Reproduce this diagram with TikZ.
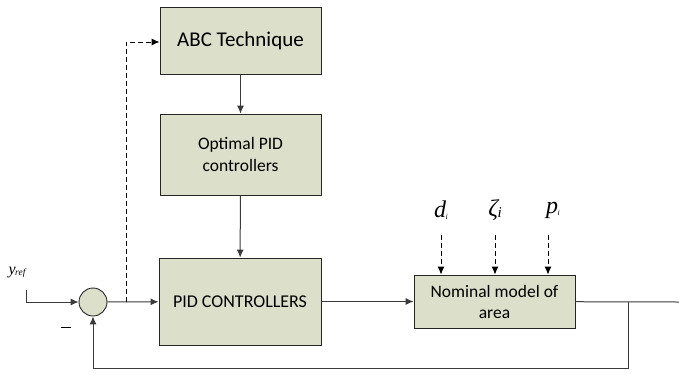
\documentclass[tikz,border=0pt]{standalone}
\usepackage{fontspec}
\setmainfont{Carlito}
\newfontfamily\serifit{Liberation Serif}[ItalicFont={Liberation Serif Italic}]
\usetikzlibrary{arrows.meta}
\definecolor{boxfill}{HTML}{DCDFC9}
\definecolor{linec}{HTML}{3A3A3A}
\begin{document}
\begin{tikzpicture}[x=1pt,y=-1pt,
  blk/.style={draw=black!85,fill=boxfill,line width=0.9pt,inner sep=0pt,align=center,font=\fontsize{14}{17}\selectfont},
  conn/.style={draw=linec,line width=1pt,-{Latex[length=8pt,width=7pt]}},
  plain/.style={draw=linec,line width=1pt},
  dconn/.style={draw=black,line width=0.9pt,dash pattern=on 5pt off 3pt,-{Latex[length=8pt,width=7pt]}},
  lbl/.style={inner sep=0pt}]
\useasboundingbox (0,0) rectangle (679,373);
\node[blk,minimum width=161pt,minimum height=67pt,font=\fontsize{21}{24}\selectfont] (abc) at (240.5,40.5) {ABC Technique};
\node[blk,minimum width=161pt,minimum height=81pt,font=\fontsize{17.5}{22}\selectfont] (opt) at (240.5,154.5) {Optimal PID\\controllers};
\node[blk,minimum width=162pt,minimum height=87pt,font=\fontsize{18}{21}\selectfont] (pid) at (240,301.5) {PID CONTROLLERS};
\node[blk,minimum width=161pt,minimum height=53pt,font=\fontsize{17.5}{21}\selectfont] (nom) at (494.5,301.5) {Nominal model of\\area};
\node[draw=black!85,fill=boxfill,line width=0.9pt,circle,minimum size=28pt,inner sep=0pt] (sum) at (93,302) {};
\node[lbl,font=\serifit\itshape\fontsize{16}{16}\selectfont] (yref) at (17,273) {y\kern-0.5pt\raisebox{-1pt}{\fontsize{9.5}{9.5}\selectfont ref}};
\coordinate (ys) at (26,290);
\coordinate (yc) at (26,302);
\node[lbl] (minus) at (66,327) {\rule{10pt}{0.8pt}};
\coordinate (tap) at (126,302);
\coordinate (tapup) at (126,42);
\coordinate (out) at (679,302);
\coordinate (br) at (628,302);
\coordinate (fb1) at (628,368.5);
\coordinate (fb2) at (93,368.5);
\node[lbl,font=\serifit\itshape\fontsize{24}{24}\selectfont] (d) at (441,210) {d\kern-0.5pt\raisebox{-2pt}{\fontsize{8}{8}\selectfont i}};
\node[lbl,font=\serifit\itshape\fontsize{24}{24}\selectfont] (z) at (495,210) {ζ\kern-0.5pt\raisebox{-1pt}{\fontsize{15}{15}\selectfont i}};
\node[lbl,font=\serifit\itshape\fontsize{24}{24}\selectfont] (p) at (553,210) {p\kern-0.5pt\raisebox{-2pt}{\fontsize{8}{8}\selectfont i}};
\coordinate (d0) at (441,235);
\coordinate (z0) at (495,235);
\coordinate (p0) at (548,235);
% connectors
\draw[conn] (abc) -- (opt);
\draw[conn] (opt) -- (pid);
\draw[conn] (ys) -- (yc) -- (sum);
\draw[conn] (sum) -- (pid);
\draw[conn] (pid) -- (nom);
\draw[plain] (nom) -- (out);
\draw[conn] (br) -- (fb1) -- (fb2) -- (sum);
\draw[dconn] (tap) -- (tapup) -- (abc.west |- tapup);
\draw[dconn] (d0) -- (d0 |- nom.north);
\draw[dconn] (z0) -- (z0 |- nom.north);
\draw[dconn] (p0) -- (p0 |- nom.north);
\end{tikzpicture}
\end{document}
